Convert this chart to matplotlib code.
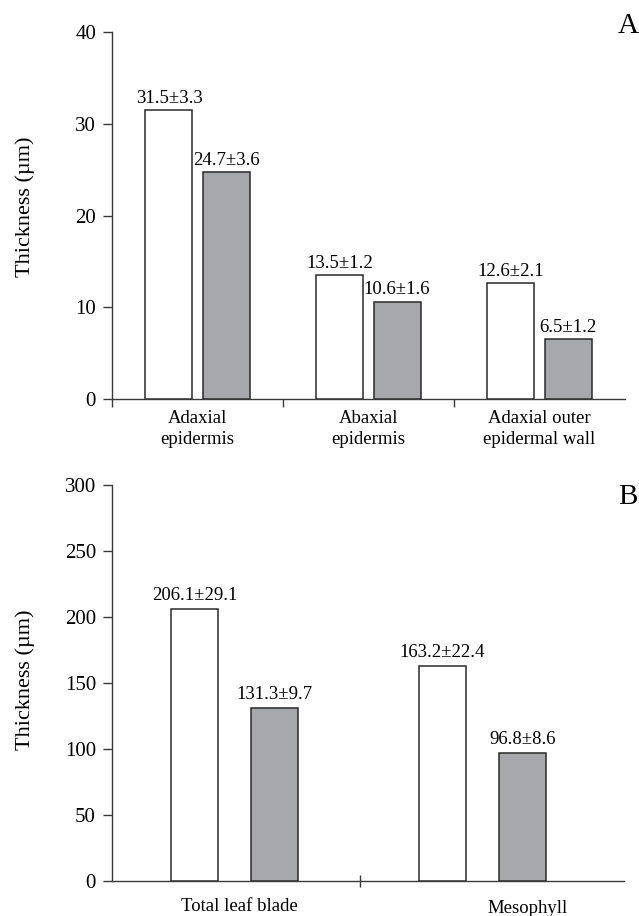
import matplotlib
matplotlib.use('Agg')
import matplotlib.pyplot as plt
import numpy as np

plt.rcParams['font.family'] = ['Liberation Serif', 'DejaVu Serif']

# Panneau A : epidermes
cats_a = ["Adaxial\nepidermis", "Abaxial\nepidermis", "Adaxial outer\nepidermal wall"]
white_a = [31.5, 13.5, 12.6]
white_a_sd = [3.3, 1.2, 2.1]
gray_a = [24.7, 10.6, 6.5]
gray_a_sd = [3.6, 1.6, 1.2]
yticks_a = [0, 10, 20, 30, 40]

# Panneau B : limbe et mesophylle
cats_b = ["Total leaf blade", "Mesophyll"]
white_b = [206.1, 163.2]
white_b_sd = [29.1, 22.4]
gray_b = [131.3, 96.8]
gray_b_sd = [9.7, 8.6]
yticks_b = [0, 50, 100, 150, 200, 250, 300]

GRAY = '#a7a8ab'
EDGE = '#2a2a2a'
AX = '#3a3a3a'

fig = plt.figure(figsize=(6.39, 9.16), dpi=100)
axA = fig.add_axes([0.1753, 0.5644, 0.8028, 0.4006])
axB = fig.add_axes([0.1753, 0.0382, 0.8012, 0.4323])


def style(ax):
    for s in ['top', 'right']:
        ax.spines[s].set_visible(False)
    for s in ['left', 'bottom']:
        ax.spines[s].set_color(AX)
        ax.spines[s].set_linewidth(1.0)
    ax.tick_params(axis='y', direction='out', length=6.5, width=1.0,
                   color=AX, labelsize=15, pad=5)


def bars(ax, white, wsd, gray, gsd, width, off, fmt_pad):
    x = np.arange(len(white))
    b1 = ax.bar(x - off, white, width, color='white', edgecolor=EDGE, linewidth=1.1, zorder=3)
    b2 = ax.bar(x + off, gray, width, color=GRAY, edgecolor=EDGE, linewidth=1.1, zorder=3)
    for rect, v, sd in zip(b1, white, wsd):
        ax.annotate(f"{v}\u00b1{sd}", (rect.get_x() + rect.get_width() / 2, v),
                    xytext=(0, fmt_pad), textcoords='offset points',
                    ha='center', va='bottom', fontsize=13.5)
    for rect, v, sd in zip(b2, gray, gsd):
        ax.annotate(f"{v}\u00b1{sd}", (rect.get_x() + rect.get_width() / 2, v),
                    xytext=(0, fmt_pad), textcoords='offset points',
                    ha='center', va='bottom', fontsize=13.5)
    return x


# --- A ---
style(axA)
xa = bars(axA, white_a, white_a_sd, gray_a, gray_a_sd, 0.275, 0.167, 2.5)
axA.set_xlim(-0.5, 2.5)
axA.set_ylim(0, 40)
axA.set_yticks(yticks_a)
axA.set_xticks([-0.5, 0.5, 1.5])
axA.set_xticklabels([])
axA.tick_params(axis='x', which='major', direction='out', length=6, width=1.0, color=AX)
axA.set_xticks(xa, minor=True)
axA.set_xticklabels(cats_a, minor=True, fontsize=13.5, linespacing=1.3)
axA.tick_params(axis='x', which='minor', length=0, pad=8)

# --- B ---
style(axB)
xb = bars(axB, white_b, white_b_sd, gray_b, gray_b_sd, 0.19, 0.162, 3.5)
axB.set_xlim(-0.494, 1.57)
axB.set_ylim(0, 300)
axB.set_yticks(yticks_b)
axB.set_xticks([0.506])
axB.set_xticklabels([])
axB.tick_params(axis='x', which='major', direction='inout', length=9, width=1.0, color=AX)
label_shift_b = [0.02, 0.18]
for xi, lab, sh in zip(xb, cats_b, label_shift_b):
    axB.annotate(lab, (xi + sh, 0), xycoords=('data', 'axes fraction'),
                 xytext=(0, -12 if sh < 0.1 else -14), textcoords='offset points',
                 ha='center', va='top', fontsize=13.5)

# etiquettes d'axe et de panneau
fig.text(25 / 639, 1 - 207 / 916, "Thickness (\u00b5m)", rotation=90,
         ha='center', va='center', fontsize=16)
fig.text(25 / 639, 1 - 680 / 916, "Thickness (\u00b5m)", rotation=90,
         ha='center', va='center', fontsize=16)
fig.text(628 / 639, 1 - 26 / 916, "A", ha='center', va='center', fontsize=21)
fig.text(628 / 639, 1 - 497 / 916, "B", ha='center', va='center', fontsize=21)

plt.savefig("out.png", dpi=100)
